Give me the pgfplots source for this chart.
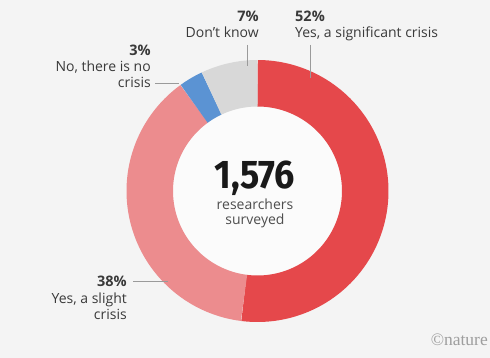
\documentclass[border=0pt]{standalone}
\usepackage{pgfplots}
\pgfplotsset{compat=1.18}
\usepackage{pgfplotstable}
\usepackage{fontspec}
\setmainfont{Open Sans}
\newfontfamily\numfont{Fira Sans}
\newfontfamily\natfont{Liberation Serif}
\definecolor{cRed}{HTML}{E5484B}
\definecolor{cPink}{HTML}{EC8C8E}
\definecolor{cBlue}{HTML}{5B93D3}
\definecolor{cGray}{HTML}{D8D8D8}
\definecolor{bgc}{HTML}{F4F4F4}
\definecolor{txt}{HTML}{3A3A3A}
\definecolor{leader}{HTML}{9A9A9A}
\tikzset{
  lbl/.style={inner sep=0pt, text=txt, font=\fontsize{14}{16}\selectfont},
  pct/.style={inner sep=0pt, text=txt, font=\bfseries\fontsize{14.5}{16}\selectfont}}

\pgfplotstableread{
label value
significant 52
slight 38
none 3
dontknow 7
}\datatable

\begin{document}%
\begin{tikzpicture}
\pgfplotstablegetelem{0}{value}\of\datatable \edef\vA{\pgfplotsretval}
\pgfplotstablegetelem{1}{value}\of\datatable \edef\vB{\pgfplotsretval}
\pgfplotstablegetelem{2}{value}\of\datatable \edef\vC{\pgfplotsretval}
\pgfplotstablegetelem{3}{value}\of\datatable \edef\vD{\pgfplotsretval}
\pgfmathsetmacro\aA{90-3.6*\vA}
\pgfmathsetmacro\aB{\aA-3.6*\vB}
\pgfmathsetmacro\aC{\aB-3.6*\vC}
\pgfmathsetmacro\aD{\aC-3.6*\vD}
\begin{axis}[name=ax, hide axis, scale only axis, width=490pt, height=358pt,
  xmin=0, xmax=490, ymin=0, ymax=358, y dir=reverse, clip=false]
\fill[bgc] (axis cs:0,0) rectangle (axis cs:490,358);
\fill[white!60!bgc] (axis cs:257.5,191) circle [radius=84.5pt];
\addplot[cRed, line width=46.5pt, domain=\aA:90, samples=150] ({257.5+107.75*cos(x)},{191-107.75*sin(x)});
\addplot[cPink, line width=46.5pt, domain=\aB:\aA, samples=120] ({257.5+107.75*cos(x)},{191-107.75*sin(x)});
\addplot[cBlue, line width=46.5pt, domain=\aC:\aB, samples=20] ({257.5+107.75*cos(x)},{191-107.75*sin(x)});
\addplot[cGray, line width=46.5pt, domain=\aD:\aC, samples=30] ({257.5+107.75*cos(x)},{191-107.75*sin(x)});
% leader lines
\draw[leader, line width=0.8pt] (axis cs:310,45) -- (axis cs:310,78);
\draw[leader, line width=0.8pt] (axis cs:247,45) -- (axis cs:247,66);
\draw[leader, line width=0.8pt] (axis cs:155,83) -- (axis cs:179,83);
\draw[leader, line width=0.8pt] (axis cs:133,281) -- (axis cs:168,281);
% labels
\node[pct, anchor=base west] at (axis cs:295,22) {52\%};
\node[lbl, anchor=base west] at (axis cs:295,38) {Yes, a significant crisis};
\node[pct, anchor=base east] at (axis cs:259,22) {7\%};
\node[lbl, anchor=base east] at (axis cs:259,38) {Don’t know};
\node[pct, anchor=base east] at (axis cs:151,56) {3\%};
\node[lbl, anchor=base east] at (axis cs:151,72) {No, there is no};
\node[lbl, anchor=base east] at (axis cs:151,88) {crisis};
\node[pct, anchor=base east] at (axis cs:127,287) {38\%};
\node[lbl, anchor=base east] at (axis cs:127,303) {Yes, a slight};
\node[lbl, anchor=base east] at (axis cs:127,319) {crisis};
% centre
\node[inner sep=0pt, anchor=base, text=black!90, font=\numfont\bfseries\fontsize{40}{42}\selectfont] at (axis cs:255,189) {\scalebox{0.9}[1]{1,576}};
\node[inner sep=0pt, anchor=base, text=txt!90, font=\fontsize{14}{16}\selectfont] at (axis cs:255,210) {researchers};
\node[inner sep=0pt, anchor=base, text=txt!90, font=\fontsize{14}{16}\selectfont] at (axis cs:255,225) {surveyed};
\node[inner sep=0pt, anchor=base east, text=black!38, font=\natfont\fontsize{17.5}{19}\selectfont] at (axis cs:488,345) {\textcopyright nature};
\end{axis}
\pgfresetboundingbox
\path[use as bounding box] (ax.south west) rectangle (ax.north east);
\end{tikzpicture}%
\end{document}
